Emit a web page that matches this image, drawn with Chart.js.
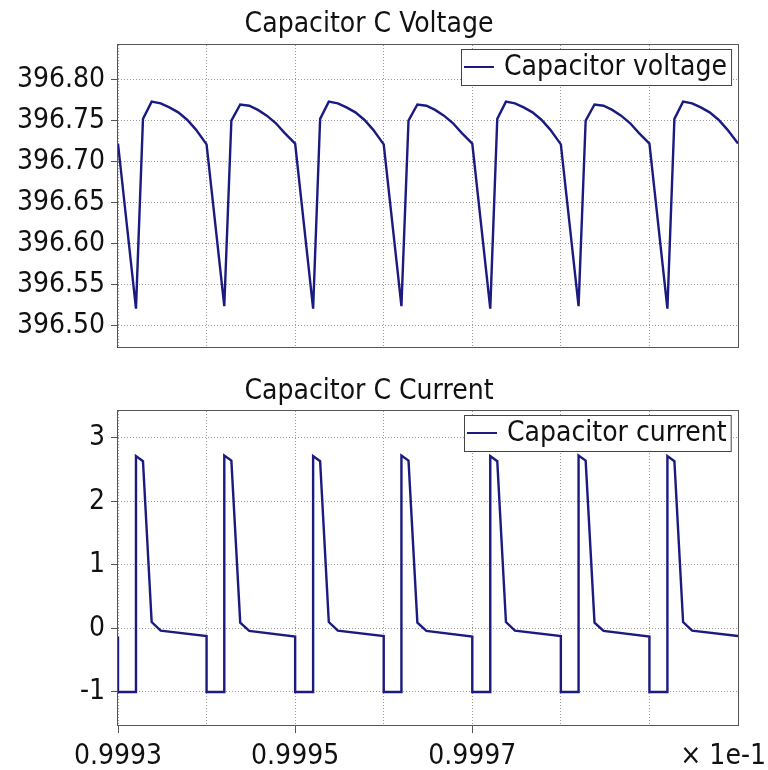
<!DOCTYPE html>
<html lang="en">
<head>
<meta charset="UTF-8">
<title>Capacitor C</title>
<script src="https://cdn.jsdelivr.net/npm/chart.js"></script>
<style>
  body { margin: 0; background: #fff; }
  canvas { display: block; }
</style>
</head>
<body>
  <canvas id="voltageChart" width="768" height="370"></canvas>
  <canvas id="currentChart" width="768" height="400"></canvas>
<script>
// time axis (shown as value x 1e-1)
const xGrid = [0.9993, 0.9994, 0.9995, 0.9996, 0.9997, 0.9998, 0.9999, 1.0];
const xLabels = [0.9993, 0.9995, 0.9997];

// capacitor voltage
const timeV = [
  0.9993000, 0.9993203, 0.9993282, 0.9993380, 0.9993482, 0.9993580, 0.9993680, 0.9993780, 0.9993880,
  0.9994000, 0.9994200, 0.9994280, 0.9994380, 0.9994482, 0.9994580, 0.9994680, 0.9994780, 0.9994880,
  0.9995000, 0.9995203, 0.9995282, 0.9995380, 0.9995482, 0.9995580, 0.9995680, 0.9995780, 0.9995880,
  0.9996000, 0.9996200, 0.9996280, 0.9996380, 0.9996482, 0.9996580, 0.9996680, 0.9996780, 0.9996880,
  0.9997000, 0.9997203, 0.9997282, 0.9997380, 0.9997482, 0.9997580, 0.9997680, 0.9997780, 0.9997880,
  0.9998000, 0.9998200, 0.9998280, 0.9998380, 0.9998482, 0.9998580, 0.9998680, 0.9998780, 0.9998880,
  0.9999000, 0.9999203, 0.9999282, 0.9999380, 0.9999482, 0.9999580, 0.9999680, 0.9999780, 0.9999880,
  1.0000000
];
const voltage = [
  396.722, 396.521, 396.752, 396.773, 396.771, 396.766, 396.760, 396.751, 396.739,
  396.721, 396.524, 396.750, 396.7695, 396.768, 396.763, 396.756, 396.747, 396.735,
  396.722, 396.521, 396.752, 396.773, 396.771, 396.766, 396.760, 396.751, 396.739,
  396.721, 396.524, 396.750, 396.7695, 396.768, 396.763, 396.756, 396.747, 396.735,
  396.722, 396.521, 396.752, 396.773, 396.771, 396.766, 396.760, 396.751, 396.739,
  396.721, 396.524, 396.750, 396.7695, 396.768, 396.763, 396.756, 396.747, 396.735,
  396.722, 396.521, 396.752, 396.773, 396.771, 396.766, 396.760, 396.751, 396.739,
  396.722
];
const voltageTicks = [396.50, 396.55, 396.60, 396.65, 396.70, 396.75, 396.80];

// capacitor current
const timeI = [
  0.9993000, 0.9993000, 0.9993203, 0.9993203, 0.9993282, 0.9993380, 0.9993482,
  0.9994000, 0.9994000, 0.9994200, 0.9994200, 0.9994280, 0.9994380, 0.9994482,
  0.9995000, 0.9995000, 0.9995203, 0.9995203, 0.9995282, 0.9995380, 0.9995482,
  0.9996000, 0.9996000, 0.9996200, 0.9996200, 0.9996280, 0.9996380, 0.9996482,
  0.9997000, 0.9997000, 0.9997203, 0.9997203, 0.9997282, 0.9997380, 0.9997482,
  0.9998000, 0.9998000, 0.9998200, 0.9998200, 0.9998280, 0.9998380, 0.9998482,
  0.9999000, 0.9999000, 0.9999203, 0.9999203, 0.9999282, 0.9999380, 0.9999482,
  1.0000000
];
const current = [
  -0.13, -1, -1, 2.71, 2.63, 0.10, -0.035,
  -0.12, -1, -1, 2.72, 2.64, 0.09, -0.040,
  -0.13, -1, -1, 2.71, 2.63, 0.10, -0.035,
  -0.12, -1, -1, 2.72, 2.64, 0.09, -0.040,
  -0.13, -1, -1, 2.71, 2.63, 0.10, -0.035,
  -0.12, -1, -1, 2.72, 2.64, 0.09, -0.040,
  -0.13, -1, -1, 2.71, 2.63, 0.10, -0.035,
  -0.12
];
const currentTicks = [-1, 0, 1, 2, 3];

const FONT = "'DejaVu Sans Condensed', 'DejaVu Sans', sans-serif";
const LINE = '#1a1a80';

// frame round the plot + boxed legend in the top right corner
const frameLegend = {
  id: 'frameLegend',
  afterDatasetsDraw(chart) {
    const { ctx, chartArea: a } = chart;
    ctx.save();
    ctx.strokeStyle = '#555';
    ctx.lineWidth = 1;
    ctx.strokeRect(Math.round(a.left) - 0.5, Math.round(a.top) - 0.5,
                   Math.round(a.width) + 1, Math.round(a.height) + 1);

    const label = chart.data.datasets[0].label;
    ctx.font = '28px ' + FONT;
    const tw = ctx.measureText(label).width;
    const h = 36, w = tw + 47;
    const x = Math.round(a.right - 7 - w), y = Math.round(a.top + 4);
    ctx.fillStyle = '#fff';
    ctx.fillRect(x, y, w, h);
    ctx.strokeStyle = '#444';
    ctx.strokeRect(x + 0.5, y + 0.5, w, h);
    ctx.strokeStyle = LINE;
    ctx.lineWidth = 2;
    ctx.beginPath();
    ctx.moveTo(x + 3, y + h / 2);
    ctx.lineTo(x + 33, y + h / 2);
    ctx.stroke();
    ctx.fillStyle = '#111';
    ctx.textBaseline = 'middle';
    ctx.fillText(label, x + 43, y + h / 2 + 1);
    ctx.restore();
  }
};

const scaleNote = {
  id: 'scaleNote',
  afterDraw(chart) {
    const ctx = chart.ctx;
    ctx.save();
    ctx.font = '28px ' + FONT;
    ctx.fillStyle = '#111';
    ctx.textAlign = 'right';
    ctx.textBaseline = 'alphabetic';
    ctx.fillText('\u00d7 1e-1', 766, 394);
    ctx.restore();
  }
};

function isLabeled(v) {
  return xLabels.some(l => Math.abs(l - v) < 1e-7);
}

function makeChart(id, o) {
  return new Chart(document.getElementById(id), {
    type: 'line',
    data: {
      datasets: [{
        label: o.label,
        data: o.xs.map((x, i) => ({ x: x, y: o.ys[i] })),
        borderColor: LINE,
        borderWidth: 2.4,
        pointRadius: 0,
        tension: 0
      }]
    },
    options: {
      responsive: false,
      animation: false,
      devicePixelRatio: 1,
      layout: { padding: { left: 0, right: 30, top: 0, bottom: 0 } },
      plugins: {
        legend: { display: false },
        tooltip: { enabled: false },
        title: {
          display: true,
          text: o.title,
          color: '#111',
          font: { family: FONT, size: 28, weight: 'normal', lineHeight: '33px' },
          padding: o.titlePad
        }
      },
      scales: {
        x: {
          type: 'linear',
          min: 0.9993,
          max: 1.0,
          afterBuildTicks: s => { s.ticks = xGrid.map(v => ({ value: v })); },
          afterFit: s => { s.height = o.xHeight; },
          grid: {
            color: '#999',
            drawTicks: o.xLabels,
            tickLength: 8,
            tickColor: c => (c.tick && isLabeled(c.tick.value)) ? '#555' : 'rgba(0,0,0,0)'
          },
          border: { display: false, dash: [1, 2] },
          ticks: {
            display: o.xLabels,
            color: '#111',
            padding: 7,
            maxRotation: 0,
            autoSkip: false,
            font: { family: FONT, size: 28 },
            callback: v => isLabeled(v) ? v.toFixed(4) : ''
          }
        },
        y: {
          min: o.yMin,
          max: o.yMax,
          afterBuildTicks: s => { s.ticks = o.yTicks.map(v => ({ value: v })); },
          afterFit: s => { s.width = 118; },
          grid: { color: '#999', tickLength: 7, tickColor: '#555' },
          border: { display: false, dash: [1, 2] },
          ticks: {
            color: '#111',
            padding: 6,
            font: { family: FONT, size: 28 },
            callback: o.yFormat
          }
        }
      }
    },
    plugins: o.extra ? [frameLegend, o.extra] : [frameLegend]
  });
}

makeChart('voltageChart', {
  label: 'Capacitor voltage',
  title: 'Capacitor C Voltage',
  titlePad: { top: 8, bottom: 4 },
  xs: timeV, ys: voltage,
  yMin: 396.474, yMax: 396.842, yTicks: voltageTicks,
  yFormat: v => v.toFixed(2),
  xLabels: false, xHeight: 11
});

makeChart('currentChart', {
  label: 'Capacitor current',
  title: 'Capacitor C Current',
  titlePad: { top: 5, bottom: 3 },
  xs: timeI, ys: current,
  yMin: -1.52, yMax: 3.42, yTicks: currentTicks,
  yFormat: v => String(v),
  xLabels: true, xHeight: 45,
  extra: scaleNote
});
</script>
</body>
</html>
